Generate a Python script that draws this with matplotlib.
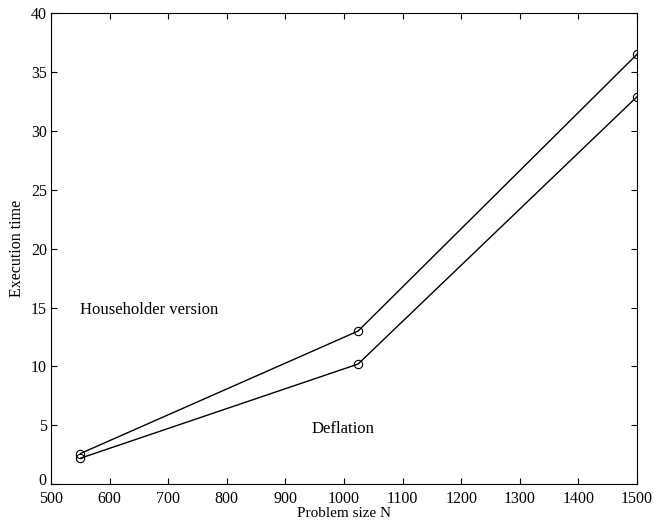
import matplotlib
matplotlib.use("Agg")
import matplotlib.pyplot as plt
from matplotlib.transforms import ScaledTranslation

# problem sizes and execution times
sizes = [550, 1024, 1500]
householder = [2.6, 13.0, 36.5]
deflation = [2.2, 10.2, 32.9]

plt.rcParams["font.family"] = ["Liberation Serif", "DejaVu Serif"]

fig = plt.figure(figsize=(6.54, 5.24), dpi=100)
ax = fig.add_axes([0.078, 0.076, 0.896, 0.899])

ax.plot(sizes, householder, color="black", lw=1.0, marker="o", ms=6,
        mfc="none", mec="black", mew=0.8)
ax.plot(sizes, deflation, color="black", lw=1.0, marker="o", ms=6,
        mfc="none", mec="black", mew=0.8)

ax.text(550, 14.8, "Householder version", fontsize=12, va="center")
ax.text(945, 4.7, "Deflation", fontsize=12, va="center")

ax.set_xlim(500, 1500)
ax.set_ylim(0, 40)
ax.set_xticks(range(500, 1501, 100))
ax.set_yticks(range(0, 41, 5))
ax.tick_params(direction="in", top=True, right=True, labelsize=11.5, length=4)
ax.tick_params(axis="x", pad=5)
ax.tick_params(axis="y", pad=3)
ax.set_xlabel("Problem size N", fontsize=11, labelpad=0)
ax.set_ylabel("Execution time", fontsize=11.5, labelpad=4)

# lift the "0" label a few points so it clears the "500" below it
fig.canvas.draw()
lab0 = ax.get_yticklabels()[0]
lab0.set_transform(lab0.get_transform() + ScaledTranslation(0, 4 / 72, fig.dpi_scale_trans))

fig.savefig("out.png", dpi=100)
